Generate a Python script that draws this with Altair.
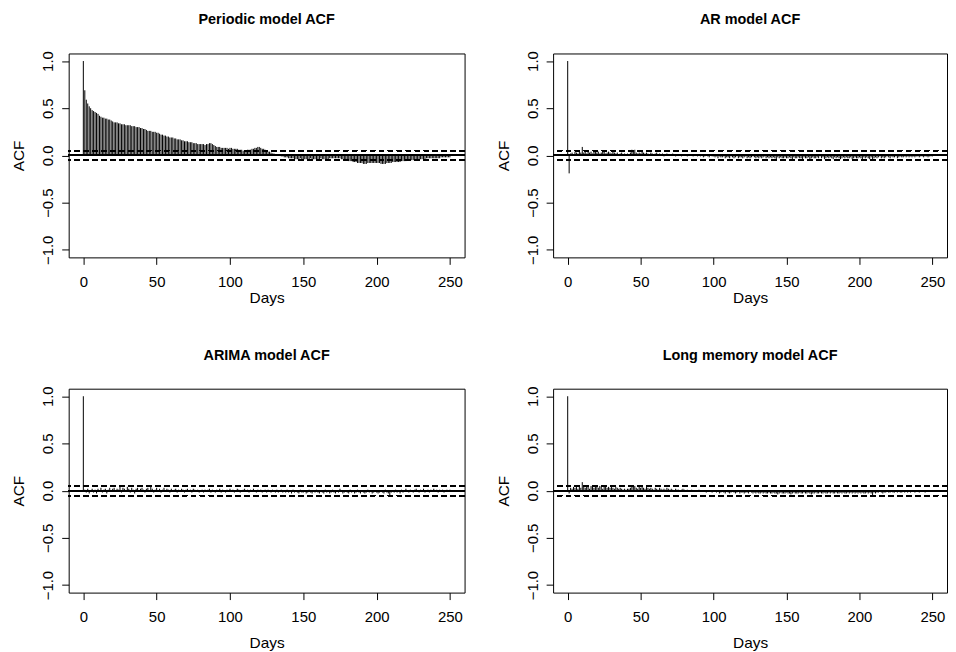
import altair as alt
import pandas as pd

lags = list(range(0, 251))

periodic_acf = [
    1.00, 0.69, 0.59, 0.55, 0.52, 0.50, 0.48, 0.47, 0.46, 0.45,
    0.44, 0.42, 0.41, 0.40, 0.40, 0.39, 0.39, 0.38, 0.38, 0.37,
    0.36, 0.35, 0.35, 0.35, 0.34, 0.34, 0.33, 0.33, 0.33, 0.32,
    0.32, 0.32, 0.32, 0.31, 0.31, 0.31, 0.30, 0.30, 0.30, 0.29,
    0.29, 0.28, 0.28, 0.27, 0.26, 0.26, 0.26, 0.25, 0.25, 0.25,
    0.24, 0.24, 0.23, 0.22, 0.22, 0.21, 0.21, 0.20, 0.20, 0.19,
    0.19, 0.19, 0.18, 0.18, 0.17, 0.17, 0.17, 0.16, 0.16, 0.15,
    0.15, 0.15, 0.14, 0.14, 0.14, 0.13, 0.13, 0.13, 0.12, 0.12,
    0.12, 0.12, 0.12, 0.11, 0.12, 0.12, 0.13, 0.13, 0.12, 0.11,
    0.10, 0.09, 0.09, 0.09, 0.08, 0.08, 0.08, 0.08, 0.08, 0.07,
    0.08, 0.08, 0.07, 0.07, 0.07, 0.07, 0.06, 0.06, 0.06, 0.05,
    0.05, 0.05, 0.06, 0.06, 0.06, 0.07, 0.07, 0.08, 0.08, 0.09,
    0.09, 0.08, 0.07, 0.07, 0.06, 0.05, 0.04, 0.04, 0.03, 0.02,
    0.02, 0.01, 0.01, 0.00, 0.00, -0.01, -0.01, -0.02, -0.02, -0.02,
    -0.03, -0.03, -0.03, -0.03, -0.04, -0.04, -0.04, -0.04, -0.03, -0.04,
    -0.04, -0.04, -0.04, -0.04, -0.04, -0.03, -0.04, -0.04, -0.04, -0.04,
    -0.04, -0.04, -0.03, -0.04, -0.04, -0.04, -0.04, -0.04, -0.03, -0.03,
    -0.03, -0.03, -0.03, -0.03, -0.03, -0.03, -0.04, -0.04, -0.05, -0.05,
    -0.05, -0.06, -0.06, -0.06, -0.07, -0.07, -0.07, -0.08, -0.08, -0.08,
    -0.08, -0.09, -0.09, -0.09, -0.08, -0.08, -0.08, -0.08, -0.08, -0.08,
    -0.08, -0.08, -0.08, -0.09, -0.09, -0.09, -0.09, -0.08, -0.08, -0.08,
    -0.08, -0.07, -0.07, -0.07, -0.07, -0.07, -0.07, -0.06, -0.06, -0.06,
    -0.06, -0.05, -0.05, -0.05, -0.05, -0.05, -0.04, -0.04, -0.04, -0.04,
    -0.04, -0.04, -0.04, -0.04, -0.03, -0.03, -0.03, -0.03, -0.03, -0.03,
    -0.03, -0.03, -0.03, -0.03, -0.02, -0.02, -0.02, -0.02, -0.02, -0.02,
    -0.02,
]

ar_acf = [
    1.00, -0.19, 0.02, 0.03, 0.01, 0.04, 0.03, 0.02, 0.04, 0.03,
    0.09, 0.03, 0.04, 0.02, 0.05, 0.03, 0.04, 0.02, 0.04, 0.05,
    0.03, 0.04, 0.02, 0.03, 0.05, 0.04, 0.02, 0.03, 0.04, 0.03,
    0.02, 0.04, 0.03, 0.02, 0.03, 0.01, 0.02, 0.03, 0.01, 0.02,
    0.01, 0.02, 0.01, 0.03, 0.06, 0.05, 0.06, 0.03, 0.02, 0.03,
    0.02, 0.04, 0.03, 0.02, 0.03, 0.02, 0.01, 0.03, 0.02, 0.01,
    0.02, 0.03, 0.01, 0.02, 0.01, 0.02, -0.01, 0.01, 0.02, 0.01,
    0.01, 0.00, 0.02, 0.01, -0.01, 0.01, 0.00, 0.01, -0.01, 0.01,
    0.00, 0.01, -0.01, 0.00, 0.01, 0.00, -0.01, 0.00, 0.01, -0.01,
    0.00, -0.01, 0.01, -0.02, -0.01, 0.00, -0.01, -0.02, 0.00, -0.01,
    -0.01, -0.02, -0.01, -0.03, -0.01, -0.02, -0.02, -0.01, -0.03, -0.02,
    -0.02, -0.03, -0.01, -0.02, -0.03, -0.02, -0.01, -0.03, -0.02, -0.02,
    -0.03, -0.02, -0.01, -0.03, -0.02, -0.03, -0.02, -0.01, -0.02, -0.03,
    -0.02, -0.03, -0.02, -0.03, -0.02, -0.01, -0.03, -0.02, -0.03, -0.02,
    -0.03, -0.02, -0.03, -0.04, -0.02, -0.03, -0.02, -0.03, -0.03, -0.02,
    -0.03, -0.03, -0.02, -0.03, -0.04, -0.02, -0.03, -0.03, -0.02, -0.03,
    -0.03, -0.04, -0.02, -0.03, -0.03, -0.02, -0.04, -0.03, -0.02, -0.03,
    -0.03, -0.02, -0.03, -0.01, -0.03, -0.02, -0.04, -0.03, -0.02, -0.03,
    -0.02, -0.03, -0.04, -0.02, -0.03, -0.02, -0.03, -0.04, -0.03, -0.02,
    -0.03, -0.02, -0.03, -0.03, -0.02, -0.04, -0.03, -0.02, -0.03, -0.03,
    -0.02, -0.03, -0.04, -0.02, -0.03, -0.02, -0.03, -0.04, -0.02, -0.05,
    -0.03, -0.02, -0.03, -0.02, -0.01, -0.03, -0.02, -0.03, -0.02, -0.01,
    -0.02, -0.03, -0.01, -0.02, -0.02, -0.01, -0.03, -0.02, -0.01, -0.02,
    -0.02, -0.01, -0.02, -0.01, -0.02, -0.01, -0.02, -0.01, -0.02, -0.01,
    -0.01, -0.02, -0.01, -0.01, -0.02, -0.01, -0.01, -0.02, -0.01, -0.01,
    -0.01,
]

arima_acf = [
    1.00, 0.01, -0.02, 0.02, -0.03, -0.01, 0.02, -0.02, 0.01, -0.03,
    0.02, -0.01, 0.03, -0.02, 0.01, 0.02, -0.03, 0.01, 0.03, -0.01,
    0.02, 0.03, -0.01, 0.02, 0.01, 0.04, -0.02, 0.03, 0.02, -0.01,
    0.04, 0.02, -0.02, 0.03, 0.01, -0.03, 0.02, 0.03, -0.01, 0.02,
    0.03, 0.01, -0.02, 0.02, 0.03, -0.01, 0.04, 0.02, -0.02, 0.01,
    0.03, -0.01, 0.02, -0.02, 0.01, 0.03, -0.01, 0.02, 0.01, -0.02,
    0.02, -0.01, 0.01, 0.02, -0.02, 0.01, -0.01, 0.02, 0.01, -0.02,
    0.01, 0.02, -0.01, 0.01, -0.02, 0.02, 0.01, -0.01, 0.01, -0.02,
    0.00, 0.01, -0.02, 0.01, -0.01, 0.01, 0.02, -0.02, 0.01, -0.01,
    -0.02, 0.01, -0.01, 0.02, -0.02, 0.01, -0.01, -0.02, 0.01, -0.01,
    0.02, -0.01, 0.01, -0.02, -0.01, 0.02, 0.01, -0.02, -0.01, 0.01,
    0.02, -0.01, 0.01, -0.02, 0.01, -0.01, 0.02, -0.01, -0.02, 0.01,
    -0.01, 0.01, -0.02, -0.01, 0.01, -0.02, 0.01, -0.01, -0.02, 0.01,
    -0.01, -0.02, 0.01, -0.02, -0.01, 0.01, -0.02, -0.01, -0.02, 0.01,
    -0.02, -0.01, -0.03, 0.01, -0.02, -0.01, -0.02, -0.03, 0.01, -0.02,
    -0.02, -0.01, -0.03, -0.02, 0.01, -0.02, -0.03, -0.01, -0.02, 0.01,
    -0.02, -0.03, -0.01, -0.02, -0.03, 0.01, -0.02, -0.01, -0.03, -0.02,
    0.01, -0.02, -0.03, -0.01, -0.02, 0.02, -0.01, -0.03, -0.02, -0.01,
    -0.02, -0.03, 0.01, -0.02, -0.01, -0.03, -0.02, 0.01, -0.02, -0.03,
    -0.01, -0.02, -0.03, -0.02, 0.01, -0.02, -0.01, -0.03, -0.02, -0.01,
    -0.02, -0.03, -0.02, -0.01, -0.02, -0.03, 0.01, -0.02, -0.03, -0.06,
    -0.02, -0.01, -0.02, 0.01, -0.02, -0.01, -0.03, 0.01, -0.02, -0.01,
    0.02, -0.01, -0.02, 0.01, -0.01, -0.02, 0.01, 0.02, -0.01, -0.02,
    0.01, -0.01, 0.02, -0.02, -0.01, 0.01, -0.02, 0.01, -0.01, 0.02,
    -0.01, 0.01, -0.02, 0.01, -0.01, 0.01, -0.02, -0.01, 0.01, -0.01,
    0.01,
]

longmem_acf = [
    1.00, -0.03, 0.03, 0.02, 0.04, 0.03, 0.05, 0.02, 0.04, 0.03,
    0.09, 0.04, 0.03, 0.05, 0.04, 0.02, 0.05, 0.04, 0.03, 0.05,
    0.04, 0.03, 0.05, 0.04, 0.02, 0.04, 0.05, 0.03, 0.04, 0.03,
    0.04, 0.03, 0.02, 0.04, 0.03, 0.02, 0.03, 0.02, 0.01, 0.02,
    0.01, 0.02, 0.02, 0.03, 0.05, 0.04, 0.05, 0.03, 0.02, 0.04,
    0.03, 0.04, 0.03, 0.02, 0.04, 0.03, 0.02, 0.03, 0.02, 0.01,
    0.03, 0.02, 0.01, 0.03, 0.02, 0.01, 0.02, 0.01, 0.03, 0.02,
    0.01, 0.02, 0.01, 0.00, 0.02, 0.01, 0.01, 0.00, 0.01, 0.02,
    0.01, 0.00, 0.01, 0.00, -0.01, 0.01, 0.00, 0.00, -0.01, 0.00,
    0.01, -0.01, 0.00, -0.01, 0.00, -0.02, -0.01, 0.00, -0.01, -0.02,
    -0.01, -0.01, -0.02, -0.01, -0.03, -0.02, -0.01, -0.02, -0.03, -0.01,
    -0.02, -0.03, -0.02, -0.01, -0.02, -0.03, -0.02, -0.01, -0.03, -0.02,
    -0.02, -0.03, -0.02, -0.02, -0.03, -0.01, -0.02, -0.03, -0.02, -0.03,
    -0.02, -0.03, -0.03, -0.02, -0.03, -0.02, -0.03, -0.03, -0.02, -0.03,
    -0.03, -0.02, -0.03, -0.03, -0.04, -0.03, -0.02, -0.03, -0.03, -0.03,
    -0.02, -0.03, -0.03, -0.04, -0.03, -0.02, -0.03, -0.03, -0.03, -0.02,
    -0.03, -0.03, -0.02, -0.03, -0.03, -0.02, -0.03, -0.04, -0.03, -0.03,
    -0.02, -0.03, -0.03, -0.02, -0.03, -0.03, -0.02, -0.03, -0.03, -0.02,
    -0.03, -0.02, -0.03, -0.03, -0.02, -0.03, -0.03, -0.02, -0.03, -0.02,
    -0.03, -0.03, -0.02, -0.03, -0.02, -0.03, -0.02, -0.03, -0.02, -0.03,
    -0.02, -0.03, -0.02, -0.03, -0.03, -0.02, -0.03, -0.02, -0.03, -0.05,
    -0.02, -0.03, -0.02, -0.02, -0.01, -0.02, -0.03, -0.02, -0.02, -0.01,
    -0.02, -0.02, -0.01, -0.02, -0.02, -0.01, -0.02, -0.01, -0.02, -0.02,
    -0.01, -0.02, -0.01, -0.02, -0.01, -0.02, -0.01, -0.01, -0.02, -0.01,
    -0.01, -0.02, -0.01, -0.01, -0.01, -0.02, -0.01, -0.01, -0.01, -0.01,
    -0.01,
]

titles = ["Periodic model ACF", "AR model ACF", "ARIMA model ACF", "Long memory model ACF"]
series = [periodic_acf, ar_acf, arima_acf, longmem_acf]
conf_limit = 0.052
x_ticks = [0, 50, 100, 150, 200, 250]
y_ticks = [-1.0, -0.5, 0.0, 0.5, 1.0]

FONT = "Liberation Sans"


def panel(title, values, width, days_y):
    df = pd.DataFrame({"lag": lags, "acf": values, "zero": [0.0] * len(lags)})
    xs = alt.Scale(domain=[-10, 260], nice=False, zero=False)
    ys = alt.Scale(domain=[-1.08, 1.08], nice=False, zero=False)
    xaxis = alt.Axis(values=x_ticks, format="d", title="Days", titleY=days_y,
                     titleBaseline="alphabetic", labelPadding=10, labelBaseline="top")
    yaxis = alt.Axis(values=y_ticks, format=".1f", title="ACF", labelAngle=270,
                     labelAlign="center", labelBaseline="alphabetic", labelPadding=9,
                     titleAngle=270, titleBaseline="alphabetic", titleX=-45)
    bars = alt.Chart(df).mark_rule(color="black", strokeWidth=1).encode(
        x=alt.X("lag:Q", scale=xs, axis=xaxis),
        y=alt.Y("acf:Q", scale=ys, axis=yaxis),
        y2="zero:Q",
    )
    zero = alt.Chart(df).mark_rule(color="black", strokeWidth=1).encode(
        y=alt.datum(0.0, scale=ys)
    )
    upper = alt.Chart(df).mark_rule(color="black", strokeWidth=1, strokeDash=[5, 4]).encode(
        y=alt.datum(conf_limit, scale=ys)
    )
    lower = alt.Chart(df).mark_rule(color="black", strokeWidth=1, strokeDash=[5, 4]).encode(
        y=alt.datum(-conf_limit, scale=ys)
    )
    return alt.layer(bars, zero, upper, lower).properties(
        width=width, height=205,
        title=alt.TitleParams(title, fontSize=14.5, fontWeight="bold", font=FONT,
                              baseline="alphabetic", offset=12, anchor="middle"),
    )


widths = [398, 396, 398, 396]
days_pos = [45, 45, 55, 55]
p = [panel(titles[i], series[i], widths[i], days_pos[i]) for i in range(4)]

chart = alt.concat(
    *p, columns=2, spacing={"row": 132, "column": 89}, bounds="flush"
).properties(
    padding={"left": 3, "top": 2, "right": 0, "bottom": 0}
).configure_view(
    stroke="black", strokeWidth=1
).configure_axis(
    grid=False, domain=False, ticks=True, tickSize=7, tickColor="black", tickWidth=1,
    labelFont=FONT, labelFontSize=15, labelColor="black",
    titleFont=FONT, titleFontSize=15.5, titleColor="black", titleFontWeight="normal",
).configure_title(color="black")

chart.save("out.html", embed_options={"renderer": "svg", "actions": False})
